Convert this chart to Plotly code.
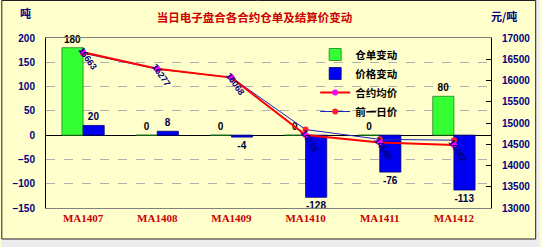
import plotly.graph_objects as go

categories = ["MA1407", "MA1408", "MA1409", "MA1410", "MA1411", "MA1412"]
warrant_change = [180, 0, 0, 0, 0, 80]          # 仓单变动 (吨)
price_change = [20, 8, -4, -128, -76, -113]      # 价格变动
avg_price = [16663, 16277, 16068, 14718, 14540, 14482]   # 合约均价
prev_price = [16643, 16269, 16072, 14846, 14616, 14595]  # 前一日价

left_ticks = [-150, -100, -50, 0, 50, 100, 150, 200]
right_ticks = [13000, 13500, 14000, 14500, 15000, 15500, 16000, 16500, 17000]

W, H = 542, 247
L, R, T, B = 45, 49, 38, 39
pw, ph = W - L - R, H - T - B

def px(x):
    return (x - L) / pw

def py(y):
    return (H - B - y) / ph

num_font = dict(family="Liberation Sans", size=10, color="#000080", weight="bold")
cjk = "Noto Sans CJK SC"

fig = go.Figure()
fig.add_trace(go.Bar(
    x=categories, y=warrant_change, name="仓单变动",
    marker=dict(color="#33FF33", line=dict(color="#208020", width=0.8)),
    text=[str(v) for v in warrant_change], textposition="outside",
    textfont=dict(family="Liberation Sans", size=10, color="#000000", weight="bold"),
    constraintext="none", cliponaxis=False, yaxis="y", legendrank=1))
fig.add_trace(go.Bar(
    x=categories, y=price_change, name="价格变动",
    marker=dict(color="#0000F0", line=dict(color="#000080", width=0.8)),
    text=[str(v) for v in price_change], textposition="outside",
    textfont=dict(family="Liberation Sans", size=10, color="#000040", weight="bold"),
    constraintext="none", cliponaxis=False, yaxis="y", legendrank=2))
fig.add_trace(go.Scatter(
    x=categories, y=prev_price, name="前一日价", mode="lines+markers",
    line=dict(color="#2020C0", width=1),
    marker=dict(color="#FF2020", size=6), yaxis="y2", legendrank=4))
fig.add_trace(go.Scatter(
    x=categories, y=avg_price, name="合约均价", mode="lines+markers",
    line=dict(color="#FF0000", width=2),
    marker=dict(color="#FF00FF", size=6), yaxis="y2", legendrank=3))

for c, v in zip(categories, avg_price):
    fig.add_annotation(x=c, y=v, xref="x", yref="y2", text=str(v),
                       textangle=55, showarrow=False, yshift=-6, xshift=4,
                       font=dict(family="Liberation Sans", size=9, color="#000080", weight="bold"))

fig.add_shape(type="rect", xref="paper", yref="paper",
              x0=px(0), x1=px(W), y0=py(H), y1=py(0),
              fillcolor="#EDEDED", line=dict(width=0), layer="below")
fig.add_shape(type="rect", xref="paper", yref="paper",
              x0=px(0.5), x1=px(538), y0=py(239), y1=py(0.5),
              fillcolor="#FFFFCC", line=dict(color="#202020", width=1), layer="below")

fig.add_annotation(x=px(17), y=py(13), xref="paper", yref="paper", text="吨",
                   yanchor="middle", showarrow=False,
                   font=dict(family=cjk, size=11, color="#000080", weight="bold"))
fig.add_annotation(x=px(521), y=py(16), xref="paper", yref="paper", text="元/吨",
                   yanchor="middle", showarrow=False,
                   font=dict(family=cjk, size=11, color="#000080", weight="bold"))

fig.update_layout(
    width=W, height=H, margin=dict(l=L, r=R, t=T, b=B),
    paper_bgcolor="#FFFFCC", plot_bgcolor="#FFFFCC",
    barmode="group", bargap=0.43, bargroupgap=0,
    title=dict(text="当日电子盘合各合约仓单及结算价变动", x=px(255), xref="paper",
               xanchor="center", y=1 - 18 / H, yanchor="middle",
               font=dict(family=cjk, size=11.5, color="#CC0000", weight="bold")),
    showlegend=True,
    legend=dict(x=px(316), y=py(40), xanchor="left", yanchor="top",
                bgcolor="rgba(0,0,0,0)", traceorder="normal", tracegroupgap=0,
                font=dict(family=cjk, size=10.5, color="#000000", weight="bold"),
                itemwidth=30),
    xaxis=dict(type="category", showline=True, linecolor="#808080", mirror=True,
               tickfont=dict(family="Liberation Serif", size=11, color="#CC0000", weight="bold"),
               ticks="", showgrid=False),
    yaxis=dict(range=[-150, 200], tickvals=left_ticks, showline=True, linecolor="#000000",
               showgrid=True, gridcolor="#B0B0B0", griddash="dash", gridwidth=1,
               zeroline=True, zerolinecolor="#000000", zerolinewidth=1,
               ticks="", ticklabelstandoff=8, tickfont=num_font),
    yaxis2=dict(range=[13000, 17000], tickvals=right_ticks, tickformat="d",
                overlaying="y", side="right",
                showline=True, linecolor="#000000", showgrid=False, zeroline=False,
                ticks="inside", ticklen=5, tickcolor="#000000",
                ticklabelstandoff=8, tickfont=num_font),
)

fig.write_html("out.html")
